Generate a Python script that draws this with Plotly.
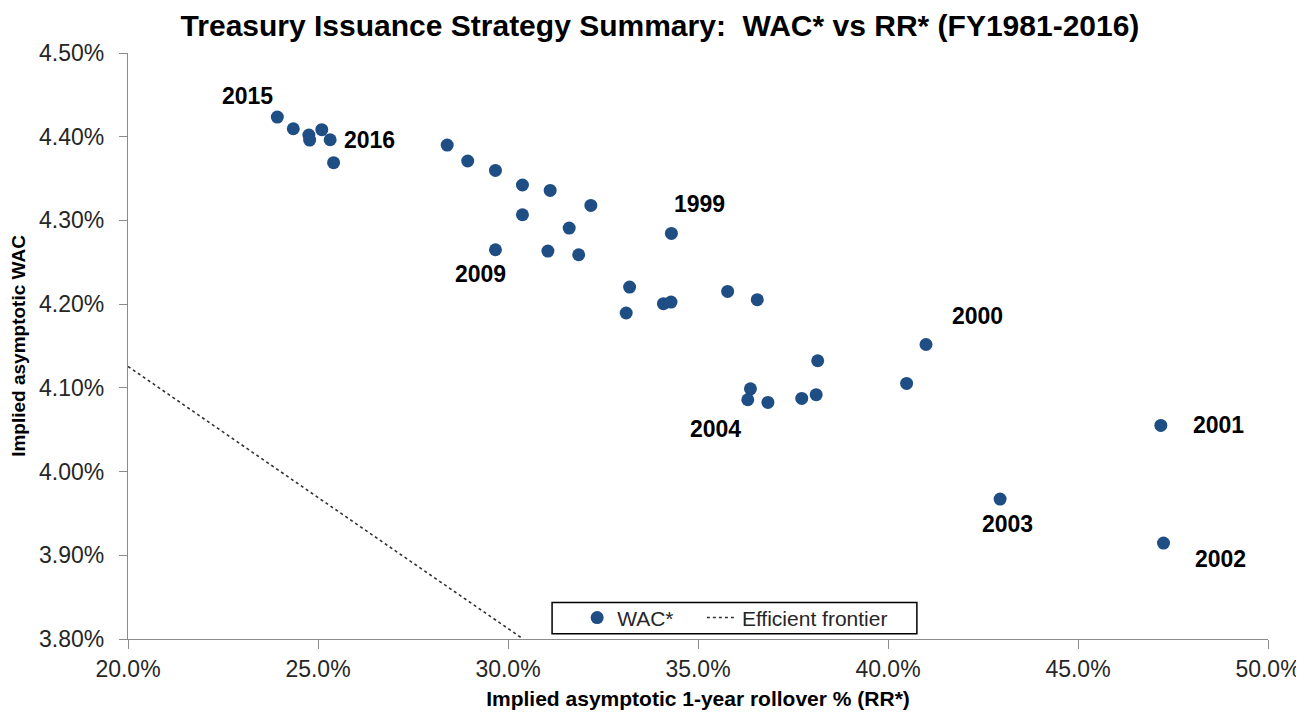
import plotly.graph_objects as go

### DATA ###

# Implied asymptotic 1-year rollover % (RR*) and implied asymptotic WAC, one point per fiscal year.
rr = [23.93, 24.35, 24.76, 24.78, 25.10, 25.32, 25.41, 28.40, 28.94, 29.67,
      30.38, 31.11, 32.18, 30.38, 31.61, 29.67, 31.05, 31.86, 34.30, 33.20,
      33.11, 34.09, 34.29, 35.78, 36.56, 41.00, 38.15, 40.49, 36.38, 36.31,
      36.84, 37.73, 38.11, 47.18, 42.95, 47.25]
wac = [4.4235, 4.4095, 4.4020, 4.3960, 4.4084, 4.3964, 4.3690, 4.3900, 4.3710, 4.3597,
       4.3423, 4.3358, 4.3179, 4.3068, 4.2909, 4.2650, 4.2634, 4.2590, 4.2845, 4.2204,
       4.1894, 4.2005, 4.2025, 4.2152, 4.2053, 4.1518, 4.1324, 4.1053, 4.0989, 4.0858,
       4.0826, 4.0874, 4.0918, 4.0551, 3.9671, 3.9146]
year_labels = ['2015', '', '', '', '', '2016', '', '', '', '',
               '', '', '', '', '', '2009', '', '', '1999', '',
               '', '', '', '', '', '2000', '', '', '', '2004',
               '', '', '', '2001', '2003', '2002']

# Efficient frontier end points.
frontier_rr = [20.0, 30.4]
frontier_wac = [4.1256, 3.80]

x_ticks = [20, 25, 30, 35, 40, 45, 50]
y_ticks = [3.8, 3.9, 4.0, 4.1, 4.2, 4.3, 4.4, 4.5]

### STYLE ###

FONT = 'Liberation Sans'
BLUE = '#1F4E85'
NBSP = '\u00a0'
# Label offsets in pixels (xshift, yshift).
LABEL_SHIFT = {'2015': (-30, 21), '2016': (39, 0), '2009': (-15, -24),
               '1999': (28, 29), '2004': (-32, -29), '2000': (51, 28),
               '2001': (58, 0), '2003': (7, -25), '2002': (57, -16)}

fig = go.Figure()
fig.add_trace(go.Scatter(
    x=rr, y=wac, mode='markers', name='WAC*' + NBSP * 4,
    marker=dict(color=BLUE, size=13)
))
fig.add_trace(go.Scatter(
    x=frontier_rr, y=frontier_wac, mode='lines', name='Efficient frontier',
    line=dict(color='#333333', width=1.6, dash='dot')
))

for xv, yv, lab in zip(rr, wac, year_labels):
    if not lab:
        continue
    dx, dy = LABEL_SHIFT[lab]
    fig.add_annotation(x=xv, y=yv, text='<b>%s</b>' % lab, showarrow=False,
                       xshift=dx, yshift=dy,
                       font=dict(family=FONT, size=23, color='black'))

# Legend frame drawn as a shape so its padding can match the original.
fig.add_shape(type='rect', xref='paper', yref='paper',
              x0=0.372, x1=0.692, y0=0.009, y1=0.0625,
              line=dict(color='black', width=1.5), fillcolor='white', layer='above')

axis_common = dict(
    showgrid=False, zeroline=False, showline=True, linecolor='#8c8c8c',
    linewidth=1.3, ticks='outside', tickcolor='#8c8c8c', tickwidth=1.3,
    tickfont=dict(family=FONT, size=23, color='#262626'), automargin=False,
)

# The page adds an 8px body margin, so margins are offset to compensate.
fig.update_layout(
    width=1304, height=717,
    paper_bgcolor='white', plot_bgcolor='white',
    margin=dict(l=120, r=44, t=45, b=86),
    title=dict(text='<b>Treasury Issuance Strategy Summary:  WAC* vs RR* (FY1981-2016)</b>',
               x=0.5, xanchor='center', y=0.976, yanchor='middle',
               font=dict(family=FONT, size=30, color='black')),
    xaxis=dict(range=[20, 50], tickvals=x_ticks,
               ticktext=['%.1f%%' % v for v in x_ticks], ticklen=9,
               title=dict(text='<b>Implied asymptotic 1-year rollover % (RR*)</b>',
                          font=dict(family=FONT, size=21, color='black'),
                          standoff=10),
               **axis_common),
    yaxis=dict(range=[3.8, 4.5], tickvals=y_ticks,
               ticktext=['%.2f%%' % v for v in y_ticks], ticklen=8,
               ticklabelstandoff=10,
               title=dict(text='<b>Implied asymptotic WAC</b>',
                          font=dict(family=FONT, size=19, color='black'),
                          standoff=8),
               **axis_common),
    legend=dict(orientation='h', x=0.394, xanchor='left', y=0.071, yanchor='top',
                borderwidth=0, bgcolor='rgba(0,0,0,0)',
                font=dict(family=FONT, size=21, color='#262626'),
                itemwidth=30),
    showlegend=True,
)

fig.write_html('out.html')
